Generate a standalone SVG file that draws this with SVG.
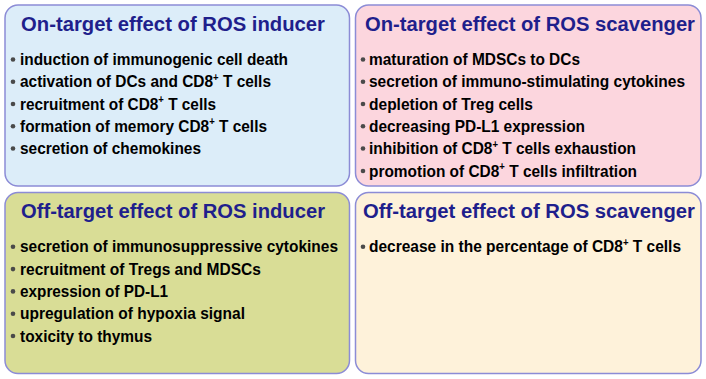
<svg xmlns="http://www.w3.org/2000/svg" width="706" height="379" viewBox="0 0 706 379">
<style>
.box{stroke:#8c8cd6;stroke-width:1.5}
.title{font-family:"Liberation Sans",Arial,sans-serif;font-weight:bold;font-size:19.5px;fill:#1f1f8c}
.item{font-family:"Liberation Sans",Arial,sans-serif;font-weight:bold;font-size:17px;fill:#000}
.sup{font-size:10.5px}
.bul{fill:#4a4a4a}
</style>
<rect width="706" height="379" fill="#ffffff"/>
<g id="on-inducer">
<rect class="box" x="5" y="5" width="344.5" height="181" rx="13" fill="#dcedf9"/>
<text class="title" x="21" y="31" textLength="304" lengthAdjust="spacingAndGlyphs">On-target effect of ROS inducer</text>
<circle class="bul" cx="13" cy="59.5" r="2.3"/>
<text class="item" x="20" y="65" textLength="268" lengthAdjust="spacingAndGlyphs">induction of immunogenic cell death</text>
<circle class="bul" cx="13" cy="81.8" r="2.3"/>
<text class="item" x="20" y="87.3" textLength="251" lengthAdjust="spacingAndGlyphs">activation of DCs and CD8<tspan class="sup" dy="-6.5">+</tspan><tspan dy="6.5"> T cells</tspan></text>
<circle class="bul" cx="13" cy="104" r="2.3"/>
<text class="item" x="20" y="109.5" textLength="196" lengthAdjust="spacingAndGlyphs">recruitment of CD8<tspan class="sup" dy="-6.5">+</tspan><tspan dy="6.5"> T cells</tspan></text>
<circle class="bul" cx="13" cy="126.3" r="2.3"/>
<text class="item" x="20" y="131.8" textLength="247" lengthAdjust="spacingAndGlyphs">formation of memory CD8<tspan class="sup" dy="-6.5">+</tspan><tspan dy="6.5"> T cells</tspan></text>
<circle class="bul" cx="13" cy="148.5" r="2.3"/>
<text class="item" x="20" y="154" textLength="181" lengthAdjust="spacingAndGlyphs">secretion of chemokines</text>
</g>
<g id="on-scavenger">
<rect class="box" x="355.5" y="5" width="345.5" height="181" rx="13" fill="#fcd6de"/>
<text class="title" x="365" y="31" textLength="330" lengthAdjust="spacingAndGlyphs">On-target effect of ROS scavenger</text>
<circle class="bul" cx="363" cy="59.5" r="2.3"/>
<text class="item" x="369" y="65" textLength="211" lengthAdjust="spacingAndGlyphs">maturation of MDSCs to DCs</text>
<circle class="bul" cx="363" cy="81.8" r="2.3"/>
<text class="item" x="369" y="87.3" textLength="316" lengthAdjust="spacingAndGlyphs">secretion of immuno-stimulating cytokines</text>
<circle class="bul" cx="363" cy="104" r="2.3"/>
<text class="item" x="369" y="109.5" textLength="164" lengthAdjust="spacingAndGlyphs">depletion of Treg cells</text>
<circle class="bul" cx="363" cy="126.3" r="2.3"/>
<text class="item" x="369" y="131.8" textLength="216" lengthAdjust="spacingAndGlyphs">decreasing PD-L1 expression</text>
<circle class="bul" cx="363" cy="148.5" r="2.3"/>
<text class="item" x="369" y="154" textLength="267" lengthAdjust="spacingAndGlyphs">inhibition of CD8<tspan class="sup" dy="-6.5">+</tspan><tspan dy="6.5"> T cells exhaustion</tspan></text>
<circle class="bul" cx="363" cy="171" r="2.3"/>
<text class="item" x="369" y="176.5" textLength="268" lengthAdjust="spacingAndGlyphs">promotion of CD8<tspan class="sup" dy="-6.5">+</tspan><tspan dy="6.5"> T cells infiltration</tspan></text>
</g>
<g id="off-inducer">
<rect class="box" x="5" y="192.5" width="344.5" height="181" rx="13" fill="#d9dd96"/>
<text class="title" x="21" y="218" textLength="304" lengthAdjust="spacingAndGlyphs">Off-target effect of ROS inducer</text>
<circle class="bul" cx="13" cy="246.8" r="2.3"/>
<text class="item" x="20" y="252.3" textLength="318" lengthAdjust="spacingAndGlyphs">secretion of immunosuppressive cytokines</text>
<circle class="bul" cx="13" cy="269.1" r="2.3"/>
<text class="item" x="20" y="274.6" textLength="241" lengthAdjust="spacingAndGlyphs">recruitment of Tregs and MDSCs</text>
<circle class="bul" cx="13" cy="291.4" r="2.3"/>
<text class="item" x="20" y="296.9" textLength="148" lengthAdjust="spacingAndGlyphs">expression of PD-L1</text>
<circle class="bul" cx="13" cy="313.7" r="2.3"/>
<text class="item" x="20" y="319.2" textLength="225" lengthAdjust="spacingAndGlyphs">upregulation of hypoxia signal</text>
<circle class="bul" cx="13" cy="336" r="2.3"/>
<text class="item" x="20" y="341.5" textLength="132" lengthAdjust="spacingAndGlyphs">toxicity to thymus</text>
</g>
<g id="off-scavenger">
<rect class="box" x="355.5" y="192.5" width="345.5" height="181" rx="13" fill="#fef2da"/>
<text class="title" x="363" y="218" textLength="332" lengthAdjust="spacingAndGlyphs">Off-target effect of ROS scavenger</text>
<circle class="bul" cx="363" cy="246.8" r="2.3"/>
<text class="item" x="369" y="252.3" textLength="312" lengthAdjust="spacingAndGlyphs">decrease in the percentage of CD8<tspan class="sup" dy="-6.5">+</tspan><tspan dy="6.5"> T cells</tspan></text>
</g>
<g id="connectors"/>
</svg>
